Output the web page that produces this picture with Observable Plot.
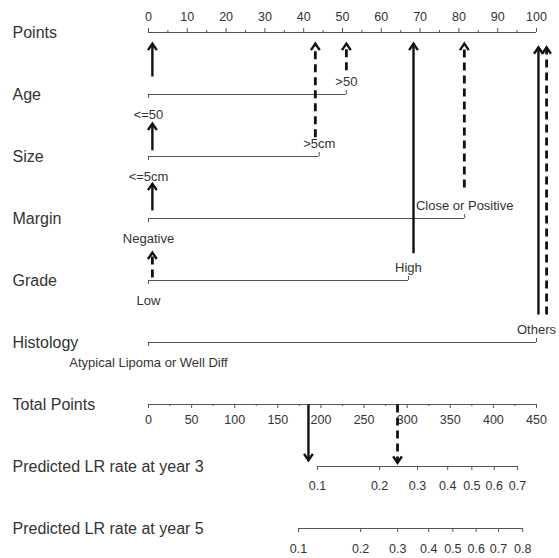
<!DOCTYPE html>
<html><head><meta charset="utf-8">
<script src="https://cdn.jsdelivr.net/npm/d3@7"></script>
<script src="https://cdn.jsdelivr.net/npm/@observablehq/plot@0.6"></script>
<style>body{margin:0;background:#fff}</style>
</head><body><div id="chart"></div>
<script>
// ---- data ----
const rowNames = ["Points","Age","Size","Margin","Grade","Histology","Total Points","Predicted LR rate at year 3","Predicted LR rate at year 5"];

const pointsMajor = [0,10,20,30,40,50,60,70,80,90,100];
const pointsMinor = [5,15,25,35,45,55,65,75,85,95];

const varNames   = ["Age","Size","Margin","Grade","Histology"];
const varLow     = ["<=50","<=5cm","Negative","Low","Atypical Lipoma or Well Diff"];
const varHigh    = [">50",">5cm","Close or Positive","High","Others"];
const varLowPts  = [0,0,0,0,0];
const varHighPts = [51,44,81.5,67,100];

const totalMax = 450;
const totalMajor = [0,50,100,150,200,250,300,350,400,450];
const totalMinor = [25,75,125,175,225,275,325,375,425];

const lr3Probs = [0.1,0.2,0.3,0.4,0.5,0.6,0.7];
const lr3Total = [196,268,312,347,375,401,428];
const lr5Probs = [0.1,0.2,0.3,0.4,0.5,0.6,0.7,0.8];
const lr5Total = [174,246,289,325,353,380,406,434];

// example patients: arrows in points units (x) between row positions
const arrowPts   = [1, 1, 1, 1, 51, 43, 81.4, 68.3, 100.5, 102.6];
const arrowFrom  = [0.71, 1.90, 2.87, 3.95, 0.61, 1.69, 2.50, 3.56, 4.55, 4.55];
const arrowTo    = [0.18, 1.47, 2.44, 3.55, 0.18, 0.18, 0.18, 0.18, 0.24, 0.24];
const arrowDash  = [false,false,false,true,true,true,true,false,false,true];
// arrows down from total points
const totalArrowTp   = [185.5, 288.8];
const totalArrowFrom = [6.0, 6.0];
const totalArrowTo   = [6.90, 6.94];
const totalArrowDash = [false, true];

// ---- build tables ----
const toPts = tp => tp * 100 / totalMax;
const row = name => rowNames.indexOf(name);

const axisLines = [
  {row: 0, x1: pointsMajor[0], x2: pointsMajor[pointsMajor.length-1]},
  ...varNames.map((v,i) => ({row: row(v), x1: varLowPts[i], x2: varHighPts[i]})),
  {row: 6, x1: toPts(totalMajor[0]), x2: toPts(totalMajor[totalMajor.length-1])},
  {row: 7, x1: toPts(lr3Total[0]), x2: toPts(lr3Total[lr3Total.length-1])},
  {row: 8, x1: toPts(lr5Total[0]), x2: toPts(lr5Total[lr5Total.length-1])}
];
const lowEnds  = varNames.map((v,i) => ({row: row(v), x: varLowPts[i], label: varLow[i]}));
const highEnds = varNames.map((v,i) => ({row: row(v), x: varHighPts[i], label: varHigh[i]}));
const lrTicks = [
  ...lr3Probs.map((p,i) => ({row: 7, x: toPts(lr3Total[i]), label: String(p)})),
  ...lr5Probs.map((p,i) => ({row: 8, x: toPts(lr5Total[i]), label: String(p)}))
];
const arrows = [
  ...arrowPts.map((x,i) => ({x, from: arrowFrom[i], to: arrowTo[i], dash: arrowDash[i]})),
  ...totalArrowTp.map((tp,i) => ({x: toPts(tp), from: totalArrowFrom[i], to: totalArrowTo[i], dash: totalArrowDash[i]}))
];

const chevron = {
  draw(ctx, size) {
    const r = Math.sqrt(size / Math.PI);
    ctx.moveTo(-r * 1.1, r * 1.6);
    ctx.lineTo(0, 0);
    ctx.lineTo(r * 1.1, r * 1.6);
  }
};

const ink = "#333";
const lineCol = "#555";
const numSize = 12.5;
const labSize = 13;

const plot = Plot.plot({
  width: 559, height: 558,
  marginLeft: 0, marginRight: 0, marginTop: 0, marginBottom: 0,
  x: {domain: [0, 100], range: [148, 536], axis: null},
  y: {domain: [0, 8], range: [32, 528], axis: null},
  style: {fontFamily: "'Liberation Sans', Arial, sans-serif", background: "#fff"},
  marks: [
    // row labels
    Plot.text(rowNames, {y: (d,i) => i, text: d => d, frameAnchor: "left", textAnchor: "start", dx: 12, fontSize: 16, fill: ink}),
    // axis lines
    Plot.ruleY(axisLines, {y: "row", x1: "x1", x2: "x2", stroke: lineCol, strokeWidth: 1.1}),
    // points axis ticks (up)
    Plot.ruleX(pointsMajor, {x: d => d, y1: () => 0, y2: () => 0, insetTop: -4, stroke: lineCol}),
    Plot.ruleX(pointsMinor, {x: d => d, y1: () => 0, y2: () => 0, insetTop: -2, stroke: lineCol}),
    Plot.text(pointsMajor, {x: d => d, y: () => 0, text: d => String(d), dy: -16, fontSize: numSize, fill: ink}),
    // variable ends
    Plot.ruleX(lowEnds, {x: "x", y1: "row", y2: "row", insetBottom: -4, stroke: lineCol}),
    Plot.ruleX(highEnds, {x: "x", y1: "row", y2: "row", insetTop: -4, stroke: lineCol}),
    Plot.text(lowEnds, {x: "x", y: "row", text: "label", dy: 20, fontSize: labSize, fill: ink}),
    Plot.text(highEnds, {x: "x", y: "row", text: "label", dy: -13, fontSize: labSize, fill: ink}),
    // total points axis (ticks down)
    Plot.ruleX(totalMajor, {x: d => toPts(d), y1: () => 6, y2: () => 6, insetBottom: -4, stroke: lineCol}),
    Plot.ruleX(totalMinor, {x: d => toPts(d), y1: () => 6, y2: () => 6, insetBottom: -2, stroke: lineCol}),
    Plot.text(totalMajor, {x: d => toPts(d), y: () => 6, text: d => String(d), dy: 15, fontSize: numSize, fill: ink}),
    // LR axes
    Plot.ruleX(lrTicks, {x: "x", y1: "row", y2: "row", insetBottom: -4, stroke: lineCol}),
    Plot.text(lrTicks.filter(d => d.row === 7), {x: "x", y: "row", text: "label", dy: 19, fontSize: numSize, fill: ink}),
    Plot.text(lrTicks.filter(d => d.row === 8), {x: "x", y: "row", text: "label", dy: 20, fontSize: numSize, fill: ink}),
    // arrows: shafts
    Plot.link(arrows.filter(d => !d.dash), {x1: "x", x2: "x", y1: "from", y2: "to", stroke: "#111", strokeWidth: 2.4}),
    Plot.link(arrows.filter(d => d.dash), {x1: "x", x2: "x", y1: "from", y2: "to", stroke: "#111", strokeWidth: 2.8, strokeDasharray: "8,5"}),
    // arrows: heads
    Plot.dot(arrows, {x: "x", y: "to", symbol: chevron, r: 4, fill: "none", stroke: "#111", strokeWidth: 2.4,
      rotate: d => d.to < d.from ? 0 : 180})
  ]
});
document.getElementById("chart").appendChild(plot);
</script>
</body></html>
